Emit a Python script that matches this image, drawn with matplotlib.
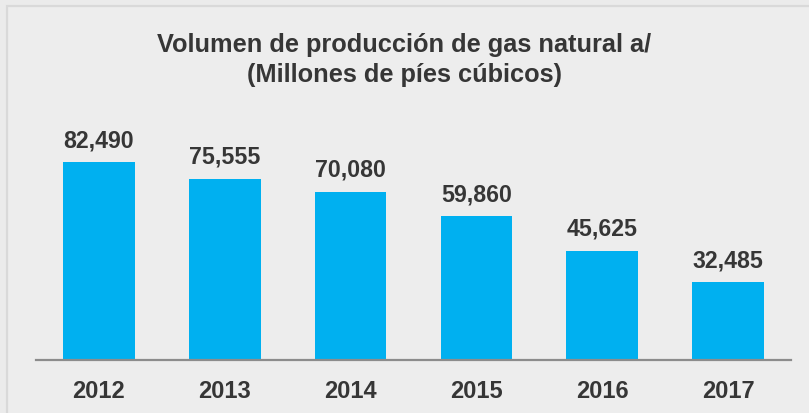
import matplotlib
matplotlib.use("Agg")
import matplotlib.pyplot as plt
from matplotlib.patches import Rectangle

plt.rcParams.update({"font.family": ["Liberation Sans", "DejaVu Sans"]})

years = ["2012", "2013", "2014", "2015", "2016", "2017"]
volumes = [82490, 75555, 70080, 59860, 45625, 32485]
title_lines = ["Volumen de producción de gas natural a/",
               "(Millones de píes cúbicos)"]

W, H = 809, 414
TXT = "#363636"

fig = plt.figure(figsize=(W / 100, H / 100), dpi=100, facecolor="#ebebeb")

# frame around the chart area (its right and bottom edges run off the image)
fig.patches.append(Rectangle((6.5 / W, -0.1), 1.2, 1 - 6.5 / H + 0.1,
                             transform=fig.transFigure, facecolor="#ededed",
                             edgecolor="#d9d9d9", linewidth=1.6, zorder=-5))

ax = fig.add_axes([36 / W, (H - 361) / H, (791 - 36) / W, (361 - 130) / H])
ax.set_facecolor("none")
x = list(range(len(years)))
ax.bar(x, volumes, width=0.57, color="#00b0f0", zorder=2)
ax.set_xlim(-0.5, len(years) - 0.5)
ax.set_ylim(0, 96250)

for xi, v in zip(x, volumes):
    ax.annotate(f"{v:,}", (xi, v), xytext=(0, 11), textcoords="offset pixels",
                ha="center", va="bottom", fontsize=16.7, fontweight="bold",
                color=TXT)

ax.set_xticks(x)
ax.set_xticklabels(years, fontsize=17, fontweight="bold", color=TXT)
ax.tick_params(axis="x", length=0, pad=13.5)
ax.set_yticks([])
for s in ["top", "right", "left"]:
    ax.spines[s].set_visible(False)
ax.spines["bottom"].set_color("#8c8c8c")
ax.spines["bottom"].set_linewidth(1.6)

for line, base in zip(title_lines, [52, 82]):
    fig.text(0.5, 1 - base / H, line, ha="center", va="baseline",
             fontsize=18.3, fontweight="bold", color=TXT)

plt.savefig("out.png", dpi=100, facecolor=fig.get_facecolor())
